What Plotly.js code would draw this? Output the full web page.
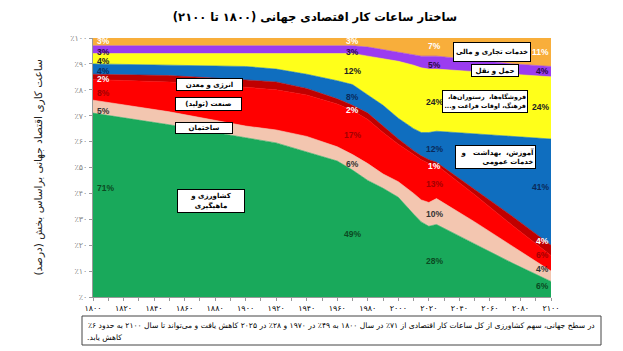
<!DOCTYPE html>
<html><head><meta charset="utf-8">
<script src="https://cdn.plot.ly/plotly-3.0.1.min.js"></script>
<style>html,body{margin:0;padding:0;background:#fff;}#chart{width:623px;height:351px;}</style>
</head><body><div id="chart"></div>
<script>
// ---- data ----
var years = [1800,1850,1900,1920,1940,1960,1970,1980,1990,2000,2010,2015,2020,2025,2050,2075,2100];
var agriculture   = [71,66.5,61.5,59.5,56,52.5,49,45,42,38.5,32,29,27.3,28,20.5,13,6];
var construction  = [5,5,4.5,5,6,5.5,6,6.5,5.5,6,8,8.5,9.2,10,8.5,6.5,4];
var manufacturing = [8,11.5,15,15.5,16,16.5,17,17,16,14.5,15,15.5,15,13,10.5,8,6];
var energyMining  = [2,2.5,2.8,3,2.5,2,2,2.5,2.5,2,1.5,1.5,1.5,1,2,3.5,4];
var eduHealth     = [4,4,5.2,5,5.5,7,8,7,8,8,8.5,9,10.5,12,21.5,31,41];
var retail        = [4,4.5,5,6,8,10.5,12,15,18,22,24.5,25,24.5,24,24,24,24];
var transport     = [3,3,3,3,3,3,3,3.5,3.5,3.5,4,4.5,5,5,4.5,4,4];
var business      = [3,3,3,3,3,3,3,3.5,4.5,5.5,6.5,7,7,7,8.5,10,11];

var seriesNames = ['کشاورزی و ماهیگیری','ساختمان','صنعت (تولید)','انرژی و معدن','آموزش، بهداشت و خدمات عمومی','فروشگاه‌ها، رستوران‌ها، فرهنگ، اوقات فراغت و...','حمل و نقل','خدمات تجاری و مالی'];
var labelYears = [1800,1970,2025,2100];
var xTickYears = [1800,1820,1840,1860,1880,1900,1920,1940,1960,1980,2000,2020,2040,2060,2080,2100];
var yTickValues = [0,10,20,30,40,50,60,70,80,90,100];

var titleText = 'ساختار ساعات کار اقتصادی جهانی (۱۸۰۰ تا ۲۱۰۰)';
var yTitleText = 'ساعت کاری اقتصاد جهانی براساس بخش (درصد)';
var noteLine1 = 'در سطح جهانی، سهم کشاورزی از کل ساعات کار اقتصادی از ۷۱٪ در سال ۱۸۰۰ به ۴۹٪ در ۱۹۷۰ و ۲۸٪ در ۲۰۲۵ کاهش یافت و می‌تواند تا سال ۲۱۰۰ به حدود ۶٪';
var noteLine2 = 'کاهش یابد.';

// ---- styles ----
var series = [agriculture,construction,manufacturing,energyMining,eduHealth,retail,transport,business];
var colors = ['#19a95b','#f3c6b0','#ff0000','#c00000','#0f6ebf','#ffff1a','#9b3cf0','#f8ae3b'];
var labelColors = ['#0b4a22','#333333','#a30000','#ffffff','#0a2a5a','#222222','#2a0a45','#ffffff'];
var RLM = '\u200F';
function toFa(n){ return String(n).replace(/\d/g, function(d){ return '۰۱۲۳۴۵۶۷۸۹'[+d]; }); }

var traces = series.map(function(vals,i){
  return {x: years, y: vals, type:'scatter', mode:'lines', stackgroup:'one',
    line:{width:0.6, color: colors[i]}, fillcolor: colors[i], name: seriesNames[i], hoverinfo:'skip'};
});

// cumulative tops
var cum = [];
series.forEach(function(vals,i){
  cum.push(vals.map(function(v,j){ return v + (i>0 ? cum[i-1][j] : 0); }));
});
function interp(arr, yr){
  for (var j=0;j<years.length-1;j++){
    if (yr>=years[j] && yr<=years[j+1]){
      var t=(yr-years[j])/(years[j+1]-years[j]);
      return arr[j]+t*(arr[j+1]-arr[j]);
    }
  }
  return arr[arr.length-1];
}

var annotations = [];
var labelXShift = [0, 0, -2, 0];
var last = labelYears.length-1;
labelYears.forEach(function(ly, c){
  var idx = years.indexOf(ly);
  var evalYear = c===0 ? 1808 : (c===last ? 2092 : ly);
  series.forEach(function(vals,i){
    var top = interp(cum[i], evalYear);
    var bot = i>0 ? interp(cum[i-1], evalYear) : 0;
    var ypos = (top+bot)/2;
    if (i===0 && c===0) ypos = top*0.6;
    if (c!==last){
      if (i===7) ypos += 0.5;
      else if (i>0) ypos -= 0.8;
    }
    annotations.push({xref:'x', yref:'y', x: c===0 ? 1801 : ly, y: ypos, xshift: labelXShift[c],
      xanchor: c===0 ? 'left' : (c===last ? 'right' : 'center'),
      yanchor:'middle', showarrow:false,
      text: '<b>' + Math.round(vals[idx]) + '%</b>',
      font:{family:'Liberation Sans, Arial, sans-serif', size:8.5, color: labelColors[i]}});
  });
});

function box(text, x, y, w, h, align, fs){
  return {xref:'x', yref:'y', x:x, y:y, xanchor:'center', yanchor:'middle', showarrow:false,
    text: text, align: align||'center', valign:'middle', width:w, height:h,
    bgcolor:'#ffffff', bordercolor:'#000000', borderwidth:1, borderpad:1,
    font:{family:'DejaVu Sans, sans-serif', size:fs||7, color:'#000', weight:'bold'}};
}
annotations.push(box(seriesNames[3]+RLM, 1876.4, 82.0, 63, 9));
annotations.push(box(seriesNames[2]+RLM, 1875.8, 74.6, 63, 10));
annotations.push(box(seriesNames[1]+RLM, 1872.5, 65.4, 54, 8));
annotations.push(box('کشاورزی و'+RLM+'<br>ماهیگیری'+RLM, 1877.5, 37.1, 64, 20));
annotations.push(box(seriesNames[7]+RLM, 2061.1, 94.7, 74, 16));
annotations.push(box(seriesNames[6]+RLM, 2063, 87.6, 44, 9));
annotations.push(box('فروشگاه‌ها،  رستوران‌ها،'+RLM+'<br>فرهنگ، اوقات فراغت و...'+RLM, 2056.8, 75.6, 82, 19, 'right', 6.3));
annotations.push(box('آموزش،  بهداشت   و'+RLM+'<br>خدمات عمومی'+RLM, 2063.7, 54.1, 77, 20, 'right'));

// y-axis title
annotations.push({xref:'paper', yref:'paper', x:(38-93)/458, y:0.5, xanchor:'center', yanchor:'middle',
  showarrow:false, textangle:-90, text: yTitleText + RLM,
  font:{family:'DejaVu Sans, sans-serif', size:10.5, color:'#222'}});
// note
annotations.push({xref:'paper', yref:'paper', x:(597-93)/458, y:(297-325.5)/259, xanchor:'right', yanchor:'middle',
  showarrow:false, text: noteLine1 + RLM, font:{family:'DejaVu Sans, sans-serif', size:7.6, color:'#000'}});
annotations.push({xref:'paper', yref:'paper', x:(85-93)/458, y:(297-337.5)/259, xanchor:'left', yanchor:'middle',
  showarrow:false, text: noteLine2 + RLM, font:{family:'DejaVu Sans, sans-serif', size:7.6, color:'#000'}});

var layout = {
  width:623, height:351, margin:{l:93, r:72, t:38, b:54},
  paper_bgcolor:'#ffffff', plot_bgcolor:'#ffffff', showlegend:false,
  title:{text: '<b>'+titleText+RLM+'</b>', x:315/623, xanchor:'center', y:1-17/351, yanchor:'middle', yref:'container',
    font:{family:'DejaVu Sans, sans-serif', size:11.5, color:'#000'}},
  xaxis:{range:[1800,2100], tickmode:'array', tickvals:xTickYears, ticktext:xTickYears.map(toFa),
    ticks:'outside', ticklen:3, tickcolor:'#999', showline:true, linecolor:'#999', linewidth:1,
    showgrid:false, zeroline:false, tickangle:0,
    tickfont:{family:'DejaVu Sans, sans-serif', size:8, color:'#000'},
    minor:{dtick:10, tick0:1800, ticks:'outside', ticklen:3, tickcolor:'#999', showgrid:false}},
  yaxis:{range:[0,100], tickmode:'array', tickvals:yTickValues, ticktext:yTickValues.map(function(v){return '٪'+toFa(v);}),
    ticks:'outside', ticklen:3, tickcolor:'#999', showline:true, linecolor:'#999', linewidth:1,
    showgrid:false, zeroline:false,
    tickfont:{family:'DejaVu Sans, sans-serif', size:8, color:'#888'}},
  shapes:[{type:'rect', xref:'paper', yref:'paper', x0:(82-93)/458, x1:(601-93)/458,
    y0:(297-345)/259, y1:(297-316)/259, line:{color:'#444', width:1}, fillcolor:'rgba(0,0,0,0)'}],
  annotations: annotations
};
Plotly.newPlot('chart', traces, layout, {displayModeBar:false, staticPlot:true});
</script></body></html>
